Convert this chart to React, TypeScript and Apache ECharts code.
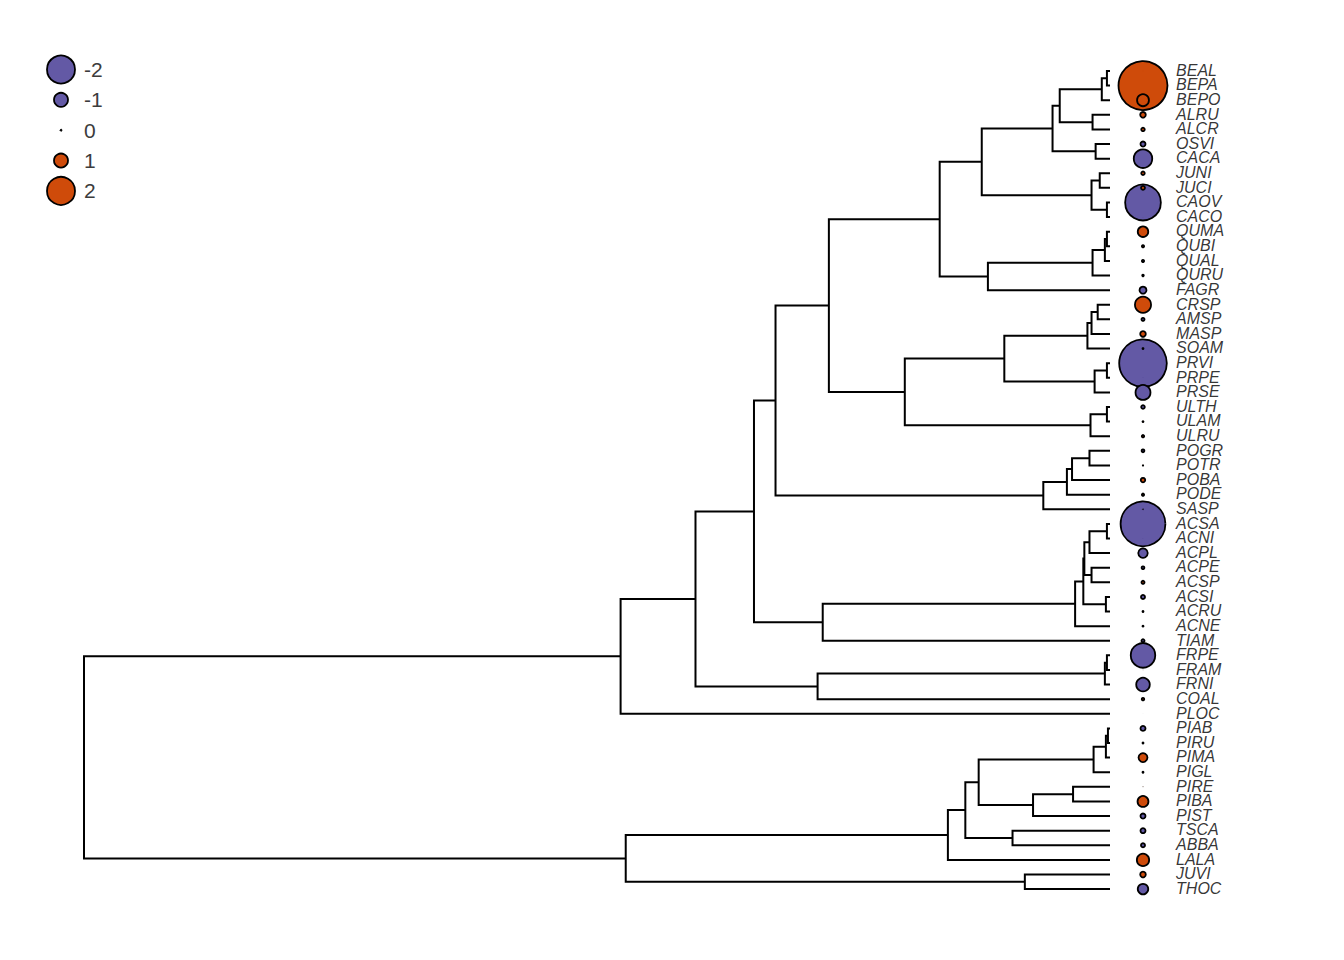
import React, { useEffect, useRef } from "react";
import * as echarts from "echarts";

// ---------------- DATA ----------------
// Newick fragments (branch lengths, relative tree height = 1)
const BETULACEAE =
  "((((BEAL:0.003,BEPA:0.003):0.005,BEPO:0.008):0.041,(ALRU:0.017,ALCR:0.017):0.032):0.007,(OSVI:0.014,CACA:0.014):0.042)";
const JUGLANDACEAE = "((JUNI:0.010,JUCI:0.010):0.008,(CAOV:0.003,CACO:0.003):0.015)";
const FAGACEAE = "((((QUMA:0.003,QUBI:0.003):0.002,QUAL:0.005):0.012,QURU:0.017):0.102,FAGR:0.119)";
const ROSACEAE =
  "((((CRSP:0.012,AMSP:0.012):0.006,MASP:0.018):0.004,SOAM:0.022):0.081,((PRVI:0.003,PRPE:0.003):0.012,PRSE:0.015):0.088)";
const ULMACEAE = "((ULTH:0.003,ULAM:0.003):0.016,ULRU:0.019)";
const SALICACEAE = "((((POGR:0.020,POTR:0.020):0.017,POBA:0.037):0.005,PODE:0.042):0.023,SASP:0.065)";
const SAPINDACEAE =
  "((((((ACSA:0.003,ACNI:0.003):0.017,ACPL:0.020):0.005,(ACPE:0.018,ACSP:0.018):0.007):0.001,(ACSI:0.004,ACRU:0.004):0.022):0.008,ACNE:0.034):0.246,TIAM:0.280)";
const OLEACEAE_CORNACEAE = "(((FRPE:0.003,FRAM:0.003):0.002,FRNI:0.005):0.280,COAL:0.285)";
const PINACEAE =
  "((((((PIAB:0.002,PIRU:0.002):0.002,PIMA:0.004):0.012,PIGL:0.016):0.112,((PIRE:0.036,PIBA:0.036):0.039,PIST:0.075):0.053):0.013,(TSCA:0.095,ABBA:0.095):0.046):0.017,LALA:0.158)";
const CUPRESSACEAE = "(JUVI:0.083,THOC:0.083)";

const HARDWOODS_A = `(${BETULACEAE}:0.069,${JUGLANDACEAE}:0.107)`;
const FAGALES = `(${HARDWOODS_A}:0.041,${FAGACEAE}:0.047)`;
const ROSALES = `(${ROSACEAE}:0.097,${ULMACEAE}:0.181)`;
const ROSIDS_A = `(${FAGALES}:0.108,${ROSALES}:0.074)`;
const ROSIDS = `(${ROSIDS_A}:0.052,${SALICACEAE}:0.261)`;
const ROSIDS_SAP = `(${ROSIDS}:0.021,${SAPINDACEAE}:0.067)`;
const CORE_EUDICOTS = `(${ROSIDS_SAP}:0.057,${OLEACEAE_CORNACEAE}:0.119)`;
const ANGIOSPERMS = `(${CORE_EUDICOTS}:0.073,PLOC:0.477)`;
const CONIFERS = `(${PINACEAE}:0.314,${CUPRESSACEAE}:0.389)`;
const NEWICK = `(${ANGIOSPERMS}:0.523,${CONIFERS}:0.528);`;

// Trait values at the tips
const TAXA = [
  "BEAL", "BEPA", "BEPO", "ALRU", "ALCR", "OSVI", "CACA", "JUNI", "JUCI", "CAOV", "CACO",
  "QUMA", "QUBI", "QUAL", "QURU", "FAGR", "CRSP", "AMSP", "MASP", "SOAM", "PRVI", "PRPE",
  "PRSE", "ULTH", "ULAM", "ULRU", "POGR", "POTR", "POBA", "PODE", "SASP", "ACSA", "ACNI",
  "ACPL", "ACPE", "ACSP", "ACSI", "ACRU", "ACNE", "TIAM", "FRPE", "FRAM", "FRNI", "COAL",
  "PLOC", "PIAB", "PIRU", "PIMA", "PIGL", "PIRE", "PIBA", "PIST", "TSCA", "ABBA", "LALA",
  "JUVI", "THOC",
];
const VALUES = [
  0.01, 3.5, 0.85, 0.4, 0.25, -0.36, -1.32, 0.25, 0.28, -2.55, -0.01,
  0.75, 0.16, -0.16, 0.12, -0.5, 1.15, -0.22, 0.4, -0.1, -3.4, -0.01,
  -1.07, -0.26, 0.1, 0.17, -0.2, 0.08, 0.32, 0.16, -0.06, -3.2, -0.01,
  -0.68, -0.2, 0.22, -0.29, 0.1, -0.1, -0.22, -1.75, 0.02, -0.97, 0.18,
  0.01, -0.36, 0.1, 0.64, -0.1, 0.03, 0.78, -0.36, -0.36, -0.29, 0.88,
  0.4, -0.75,
];
const LEGEND_VALUES = [-2, -1, 0, 1, 2];

// ---------------- STYLE / LAYOUT ----------------
const W = 1344;
const H = 960;
const ROOT_PX = 84;
const TIP_PX = 1110;
const DOT_PX = 1143;
const LABEL_PX = 1176;
const FIRST_TIP_PY = 71;
const LAST_TIP_PY = 889.1;
const RADIUS_PER_UNIT = 7.0;
const ORANGE = "#CF4B0A";
const PURPLE = "#6359A5";
const LEGEND_X = 61;
const LEGEND_Y0 = 69.5;
const LEGEND_DY = 30.35;

type TreeNode = { name: string; len: number; children: TreeNode[]; x: number; y: number };

function parseNewick(src: string): TreeNode {
  const s = src.replace(/\s+/g, "");
  let i = 0;
  function parseNode(): TreeNode {
    const node: TreeNode = { name: "", len: 0, children: [], x: 0, y: 0 };
    if (s[i] === "(") {
      i++;
      node.children.push(parseNode());
      while (s[i] === ",") {
        i++;
        node.children.push(parseNode());
      }
      i++; // ')'
    }
    let name = "";
    while (i < s.length && !",():;".includes(s[i])) name += s[i++];
    node.name = name;
    if (s[i] === ":") {
      i++;
      let num = "";
      while (i < s.length && !",();".includes(s[i])) num += s[i++];
      node.len = parseFloat(num);
    }
    return node;
  }
  return parseNode();
}

function layoutTree(root: TreeNode) {
  const tips: TreeNode[] = [];
  const internals: TreeNode[] = [];
  function walk(n: TreeNode, depth: number) {
    n.x = depth;
    if (n.children.length === 0) {
      n.y = tips.length;
      tips.push(n);
    } else {
      n.children.forEach((c) => walk(c, depth + c.len));
      n.y = (n.children[0].y + n.children[n.children.length - 1].y) / 2;
      internals.push(n);
    }
  }
  walk(root, 0);
  return { tips, internals };
}

export default function App() {
  const ref = useRef<HTMLDivElement>(null);

  useEffect(() => {
    if (!ref.current) return;
    const chart = echarts.init(ref.current, null, { renderer: "svg" });

    const root = parseNewick(NEWICK);
    const { tips, internals } = layoutTree(root);
    const maxDepth = Math.max(...tips.map((t) => t.x));
    const xScale = (TIP_PX - ROOT_PX) / maxDepth;
    const yScale = (LAST_TIP_PY - FIRST_TIP_PY) / (tips.length - 1);
    const xMin = -ROOT_PX / xScale;
    const xMax = (W - ROOT_PX) / xScale;
    const yMin = -FIRST_TIP_PY / yScale;
    const yMax = (H - FIRST_TIP_PY) / yScale;
    const dotX = (DOT_PX - ROOT_PX) / xScale;
    const labelX = (LABEL_PX - ROOT_PX) / xScale;

    const branchData = internals.map((n) => {
      const a = n.children[0];
      const b = n.children[n.children.length - 1];
      return {
        coords: [
          [a.x, a.y],
          [n.x, a.y],
          [n.x, b.y],
          [b.x, b.y],
        ],
      };
    });

    const valueOf: Record<string, number> = {};
    TAXA.forEach((t, k) => (valueOf[t] = VALUES[k]));

    const dots = tips
      .map((t) => ({ name: t.name, y: t.y, v: valueOf[t.name] ?? 0 }))
      .sort((p, q) => Math.abs(q.v) - Math.abs(p.v))
      .map((d) => {
        const diam = 2 * RADIUS_PER_UNIT * Math.abs(d.v);
        return {
          name: d.name,
          value: [dotX, d.y, d.v],
          symbolSize: diam,
          itemStyle: {
            color: d.v < 0 ? PURPLE : ORANGE,
            borderColor: "#000",
            borderWidth: Math.min(1.8, diam),
            opacity: 1,
          },
        };
      });

    const labels = tips.map((t) => ({ name: t.name, value: [labelX, t.y - 0.05] }));

    const legendGraphics: any[] = [];
    LEGEND_VALUES.forEach((v, k) => {
      const cy = LEGEND_Y0 + k * LEGEND_DY;
      const r = RADIUS_PER_UNIT * Math.abs(v);
      legendGraphics.push({
        type: "circle",
        silent: true,
        shape: { cx: LEGEND_X, cy, r: v === 0 ? 0.9 : r },
        style: {
          fill: v === 0 ? "#000" : v < 0 ? PURPLE : ORANGE,
          stroke: "#000",
          lineWidth: v === 0 ? 1 : 1.8,
        },
      });
      legendGraphics.push({
        type: "text",
        silent: true,
        x: 84,
        y: cy,
        style: {
          text: String(v),
          fill: "#3c3c3c",
          fontSize: 21,
          fontFamily: "Liberation Sans, Arial, sans-serif",
          verticalAlign: "middle",
          align: "left",
        },
      });
    });

    chart.setOption({
      animation: false,
      backgroundColor: "#fff",
      grid: { left: 0, right: 0, top: 0, bottom: 0, containLabel: false },
      xAxis: { type: "value", min: xMin, max: xMax, show: false, splitLine: { show: false } },
      yAxis: {
        type: "value",
        min: yMin,
        max: yMax,
        inverse: true,
        show: false,
        splitLine: { show: false },
      },
      graphic: legendGraphics,
      series: [
        {
          type: "lines",
          coordinateSystem: "cartesian2d",
          polyline: true,
          silent: true,
          data: branchData,
          lineStyle: { color: "#000", width: 2, opacity: 1, curveness: 0 },
          z: 1,
        },
        {
          type: "scatter",
          silent: true,
          data: dots,
          symbol: "circle",
          itemStyle: { opacity: 1 },
          z: 2,
        },
        {
          type: "scatter",
          silent: true,
          data: labels,
          symbol: "circle",
          symbolSize: 0.1,
          itemStyle: { color: "rgba(0,0,0,0)" },
          label: {
            show: true,
            position: "right",
            distance: 0,
            formatter: "{b}",
            color: "#000",
            fontSize: 16,
            fontStyle: "italic",
            fontFamily: "Liberation Sans, Arial, sans-serif",
          },
          z: 3,
        },
      ],
    });

    return () => chart.dispose();
  }, []);

  return (
    <div
      ref={ref}
      style={{ position: "absolute", left: 0, top: 0, width: W, height: H, background: "#fff" }}
    />
  );
}
